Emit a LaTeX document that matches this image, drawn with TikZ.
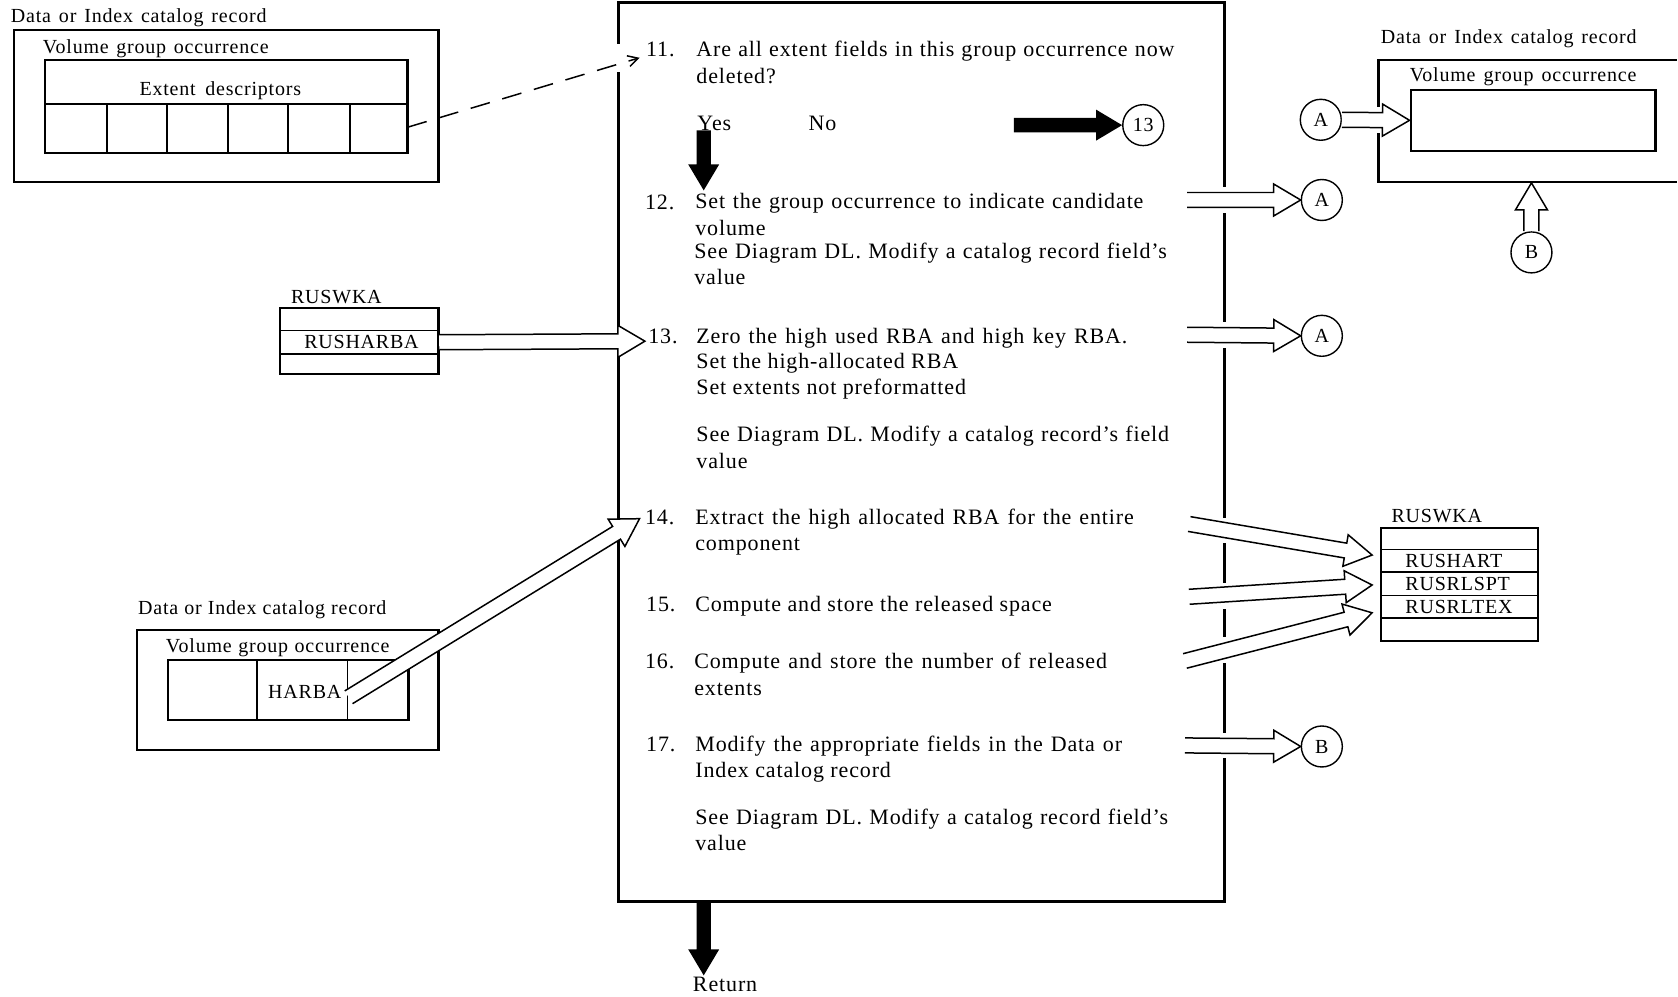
\documentclass[tikz,border=0pt]{standalone}
\usepackage{fontspec}
\setmainfont{Liberation Serif}[LetterSpace=4]
\usetikzlibrary{calc,arrows.meta,fit}
\newlength\pxunit
\setlength\pxunit{1.0702pt}
% a line set to a given width by stretching its spaces
\newcommand\fitline[2]{\makebox[#1\pxunit][s]{#2}}
% hollow block arrow from #1 to #2 (open tail)
\newcommand\hollowarrow[2]{%
  \coordinate (hb) at ($(#2)!27pt!(#1)$);
  \filldraw[hollow] ($(#1)!7.5pt!90:(#2)$) -- ($(hb)!7.5pt!90:(#2)$) -- ($(hb)!16pt!90:(#2)$) -- (#2)
    -- ($(hb)!16pt!-90:(#2)$) -- ($(hb)!7.5pt!-90:(#2)$) -- ($(#1)!7.5pt!-90:(#2)$);}
% solid black block arrow from #1 to #2
\newcommand\solidarrow[2]{%
  \coordinate (hb) at ($(#2)!26pt!(#1)$);
  \fill[blackarrow] ($(#1)!7.2pt!90:(#2)$) -- ($(hb)!7.2pt!90:(#2)$) -- ($(hb)!15.5pt!90:(#2)$) -- (#2)
    -- ($(hb)!15.5pt!-90:(#2)$) -- ($(hb)!7.2pt!-90:(#2)$) -- ($(#1)!7.2pt!-90:(#2)$) -- cycle;}
\begin{document}
\begin{tikzpicture}[x=1.0702pt, y=-1.0702pt,
  lbl/.style={font=\fontsize{20}{24}\selectfont, inner sep=0pt, anchor=base west},
  txt/.style={font=\fontsize{22}{26}\selectfont, inner sep=0pt, anchor=base west},
  box/.style={draw, line width=2.2pt, inner sep=0pt},
  rowbox/.style={draw, line width=1.5pt, inner sep=0pt},
  cellline/.style={line width=1.8pt},
  mainbox/.style={draw, line width=3.2pt, inner sep=0pt},
  circ/.style={draw, circle, line width=1.4pt, minimum size=41pt, inner sep=0pt, font=\fontsize{20}{24}\selectfont},
  hollow/.style={draw, fill=white, line width=1.5pt, line join=miter, miter limit=20},
  blackarrow/.style={fill=black},
  bordergap/.style={draw=white, line width=6pt},
  dashedlink/.style={line width=1.5pt, dash pattern=on 20pt off 13pt, -{Straight Barb[length=10pt,width=11pt]}}
]
\fill[white] (0,0) rectangle (1568,932);

% ---- top-left record with its extent descriptors
\node[lbl] (tlTitle) at (10,21) {\fitline{239}{Data or Index catalog record}};
\node[box, fit={(13,28) (410,170)}] (tlOuter) {};
\node[lbl] (tlVgo) at (40,50) {\fitline{211}{Volume group occurrence}};
\node[box, fit={(42,56) (381,143)}] (tlInner) {};
\draw[cellline] (42,97) -- (381,97);
\foreach \cx in {100,156,213,269,327} \draw[cellline] (\cx,97) -- (\cx,143);
\node[lbl, anchor=base] (tlExt) at (206,89) {\fitline{151}{Extent descriptors}};
\coordinate (lastCell) at (381,119);

% ---- main process box
\node[mainbox, fit={(578,2) (1145,843)}] (main) {};
\foreach \gy in {54,319} \draw[bordergap] (578,\gy-13) -- (578,\gy+13);
\foreach \gy in {187,313,496,557,608,697} \draw[bordergap] (1145,\gy-12) -- (1145,\gy+12);

% step 11
\node[txt] (n11) at (604,53) {11.};
\node[txt] (t11a) at (651,53) {\fitline{447}{Are all extent fields in this group occurrence now}};
\node[txt] (t11b) at (651,78) {deleted?};
\node[txt] (yes) at (652,122) {Yes};
\node[txt] (no) at (756,122) {No};
\node[circ] (c13) at (1069,117) {13};
\coordinate (noStart) at (948,117);
\solidarrow{noStart}{c13.west}
\coordinate (yesStart) at (658,122);
\coordinate (yesEnd) at (658,178);
\solidarrow{yesStart}{yesEnd}
\coordinate (in11) at (598,54);
\draw[dashedlink] (lastCell) -- (in11);

% step 12
\node[txt] (n12) at (603,196) {12.};
\node[txt] (t12a) at (650,195) {\fitline{419}{Set the group occurrence to indicate candidate}};
\node[txt] (t12b) at (650,220) {volume};
\node[txt] (t12c) at (649,242) {\fitline{442}{See Diagram DL. Modify a catalog record field's}};
\node[txt] (t12d) at (649,266) {value};

% step 13
\node[txt] (n13) at (606,321) {13.};
\node[txt] (t13a) at (651,321) {\fitline{403}{Zero the high used RBA and high key RBA.}};
\node[txt] (t13b) at (651,345) {Set the high-allocated RBA};
\node[txt] (t13c) at (651,369) {Set extents not preformatted};
\node[txt] (t13d) at (651,413) {\fitline{442}{See Diagram DL. Modify a catalog record's field}};
\node[txt] (t13e) at (651,438) {value};

% step 14
\node[txt] (n14) at (603,490) {14.};
\node[txt] (t14a) at (650,490) {\fitline{410}{Extract the high allocated RBA for the entire}};
\node[txt] (t14b) at (650,515) {component};

% step 15
\node[txt] (n15) at (604,572) {15.};
\node[txt] (t15a) at (650,572) {Compute and store the released space};

% step 16
\node[txt] (n16) at (603,625) {16.};
\node[txt] (t16a) at (649,625) {\fitline{386}{Compute and store the number of released}};
\node[txt] (t16b) at (649,650) {extents};

% step 17
\node[txt] (n17) at (604,703) {17.};
\node[txt] (t17a) at (650,703) {\fitline{399}{Modify the appropriate fields in the Data or}};
\node[txt] (t17b) at (650,727) {Index catalog record};
\node[txt] (t17c) at (650,771) {\fitline{442}{See Diagram DL. Modify a catalog record field's}};
\node[txt] (t17d) at (650,795) {value};

% return
\coordinate (retStart) at (658,843);
\coordinate (retEnd) at (658,912);
\solidarrow{retStart}{retEnd}
\node[txt, anchor=base] (ret) at (678,927) {Return};

% ---- RUSWKA work area (input)
\node[lbl] (rw1Title) at (272,284) {RUSWKA};
\node[box, fit={(262,288) (410,350)}] (rw1) {};
\node[rowbox, fit={(262,309) (410,331)}] (rusharba) {};
\node[lbl, anchor=center] (rusharbaTxt) at (338,320) {RUSHARBA};
\coordinate (in13) at (603,319);
\hollowarrow{rusharba.east}{in13}

% ---- bottom-left record with HARBA
\node[lbl] (blTitle) at (129,575) {\fitline{232}{Data or Index catalog record}};
\node[box, fit={(128,589) (410,701)}] (blOuter) {};
\node[lbl] (blVgo) at (155,610) {\fitline{209}{Volume group occurrence}};
\node[box, fit={(157,617) (382,673)}] (blInner) {};
\draw[cellline] (240,617) -- (240,673);
\draw[cellline] (325,617) -- (325,673);
\node[lbl, anchor=center] (harba) at (285,647) {HARBA};
\coordinate (harbaTail) at (326,652);
\coordinate (in14) at (598,485);
\hollowarrow{harbaTail}{in14}

% ---- top-right record (output)
\node[lbl] (trTitle) at (1291,41) {\fitline{239}{Data or Index catalog record}};
\draw[line width=2.2pt] (1568,56) -- (1289,56) -- (1289,170) -- (1568,170);
\draw[bordergap] (1289,100) -- (1289,124);
\node[lbl] (trVgo) at (1318,76) {\fitline{212}{Volume group occurrence}};
\node[box, fit={(1319,84) (1548,141)}] (trInner) {};
\node[circ] (a0) at (1235,112) {A};
\hollowarrow{a0.east}{trInner.west}
\node[circ] (b2) at (1432,236) {B};
\coordinate (trBottom) at (1432,171);
\hollowarrow{b2.north}{trBottom}

% ---- connectors leaving the main box
\node[circ] (a1) at (1236,187) {A};
\coordinate (out12) at (1110,187);
\hollowarrow{out12}{a1.west}
\node[circ] (a2) at (1236,314) {A};
\coordinate (out13) at (1110,313);
\hollowarrow{out13}{a2.west}
\node[circ] (b1) at (1236,698) {B};
\coordinate (out17) at (1108,697);
\hollowarrow{out17}{b1.west}

% ---- RUSWKA work area (output)
\node[lbl] (rw2Title) at (1301,489) {RUSWKA};
\node[box, fit={(1291,494) (1438,599)}] (rw2) {};
\node[rowbox, fit={(1291,514) (1438,535)}] (rushart) {};
\node[rowbox, fit={(1291,535) (1438,557)}] (rusrlspt) {};
\node[rowbox, fit={(1291,557) (1438,578)}] (rusrltex) {};
\node[lbl, anchor=west] (rushartTxt) at (1314,524.5) {RUSHART};
\node[lbl, anchor=west] (rusrlsptTxt) at (1314,546) {RUSRLSPT};
\node[lbl, anchor=west] (rusrltexTxt) at (1314,567.5) {RUSRLTEX};
\coordinate (out14) at (1112,490);
\coordinate (out15) at (1112,558);
\coordinate (out16) at (1108,618);
\coordinate (tipHart) at (1283,519);
\coordinate (tipLspt) at (1283,547);
\coordinate (tipLtex) at (1283,573);
\hollowarrow{out14}{tipHart}
\hollowarrow{out15}{tipLspt}
\hollowarrow{out16}{tipLtex}
\end{tikzpicture}
\end{document}
